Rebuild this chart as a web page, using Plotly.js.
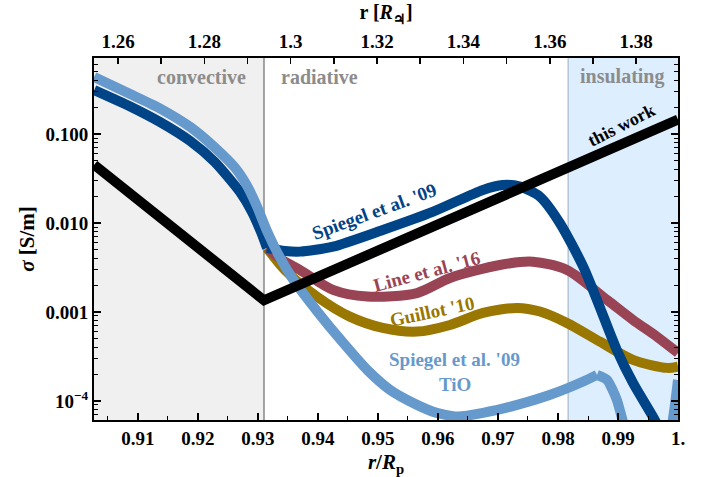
<!DOCTYPE html>
<html>
<head>
<meta charset="utf-8">
<script src="https://cdn.plot.ly/plotly-3.0.1.min.js"></script>
<style>html,body{margin:0;padding:0;background:#fff;}#chart{width:703px;height:477px;}</style>
</head>
<body>
<div id="chart"></div>
<script>
// ---- data ----
const xThisWork = [0.9027, 0.931, 1.0];
const sThisWork = [0.045, 0.00135, 0.145];

const xSpiegel = [0.9027, 0.9087, 0.9137, 0.9187, 0.9228, 0.927, 0.929, 0.9305, 0.9315, 0.9345, 0.937, 0.9425, 0.9508, 0.9592, 0.9675, 0.9708, 0.9737, 0.977, 0.9803, 0.9842, 0.9865, 0.9898, 0.9925, 0.9958, 0.998];
const sSpiegel = [0.312, 0.204, 0.136, 0.0834, 0.0485, 0.0223, 0.0133, 0.00792, 0.00524, 0.00484, 0.00476, 0.00542, 0.00834, 0.0134, 0.0235, 0.0267, 0.0256, 0.0197, 0.0100, 0.00323, 0.00136, 0.000374, 0.000159, 0.0000667, 0.0000355];
const spiegelJoin = 8; // index of the convective/radiative kink

const xTiO = [0.9027, 0.9087, 0.9137, 0.9187, 0.9228, 0.9262, 0.9282, 0.9298, 0.9315, 0.9337, 0.9358, 0.9398, 0.9442, 0.9482, 0.952, 0.9565, 0.9598, 0.9632, 0.9675, 0.9732, 0.9787, 0.9842, 0.9865, 0.9882, 0.9898, 0.9912, 0.9945, 0.9988, 1.0];
const sTiO = [0.437, 0.281, 0.193, 0.120, 0.0705, 0.0415, 0.0260, 0.0155, 0.00813, 0.00404, 0.00235, 0.00103, 0.000449, 0.000223, 0.000133, 0.0000902, 0.0000733, 0.0000667, 0.0000733, 0.0000902, 0.000117, 0.000165, 0.000196, 0.000172, 0.000103, 0.0000472, 0.00001, 0.0000472, 0.000172];
const tioPeak = 22; // index of the sharp peak

const xLine = [0.9315, 0.934, 0.937, 0.9425, 0.9482, 0.9565, 0.962, 0.9703, 0.9758, 0.9815, 0.9882, 0.9925, 0.9965, 1.0];
const sLine = [0.00524, 0.00384, 0.00296, 0.00177, 0.00149, 0.00163, 0.00241, 0.00337, 0.00367, 0.00296, 0.00136, 0.000813, 0.000527, 0.000346];

const xGuillot = [0.9315, 0.9345, 0.9398, 0.9453, 0.9508, 0.9565, 0.962, 0.9675, 0.9732, 0.977, 0.9815, 0.987, 0.9925, 0.9982, 1.0];
const sGuillot = [0.00524, 0.00296, 0.00149, 0.000885, 0.000661, 0.000601, 0.000714, 0.000975, 0.00111, 0.00101, 0.000752, 0.000463, 0.000289, 0.000235, 0.000243];

const bottomTicks = [0.91, 0.92, 0.93, 0.94, 0.95, 0.96, 0.97, 0.98, 0.99, 1.0];
const bottomLabels = ['0.91', '0.92', '0.93', '0.94', '0.95', '0.96', '0.97', '0.98', '0.99', '1.'];
const topTicks = [1.26, 1.27, 1.28, 1.29, 1.30, 1.31, 1.32, 1.33, 1.34, 1.35, 1.36, 1.37, 1.38, 1.39];
const topLabels = ['1.26', '', '1.28', '', '1.3', '', '1.32', '', '1.34', '', '1.36', '', '1.38', ''];
const yTicks = [0.0001, 0.001, 0.01, 0.1];
const yLabels = ['10<sup>\u22124</sup>', '0.001', '0.010', '0.100'];

const xMin = 0.90267, xMax = 1.0, rJ = 1.3897;
const convBoundary = 0.931, insBoundary = 0.9817;

// ---- colours ----
const cDark = '#004488', cLight = '#6699CC', cRed = '#994455', cGold = '#997700';
const W = 10;
const FONT = 'Liberation Serif, Times New Roman, serif';

function seg(x, y, i0, i1, color, smooth) {
  return {x: x.slice(i0, i1 + 1), y: y.slice(i0, i1 + 1), mode: 'lines',
          line: {color: color, width: W, shape: smooth ? 'spline' : 'linear', smoothing: smooth || 0}};
}

const traces = [
  seg(xGuillot, sGuillot, 0, xGuillot.length - 1, cGold, 0.8),
  seg(xLine, sLine, 0, xLine.length - 1, cRed, 0.8),
  seg(xSpiegel, sSpiegel, 0, spiegelJoin, cDark, 0.6),
  seg(xSpiegel, sSpiegel, spiegelJoin, xSpiegel.length - 1, cDark, 0.7),
  seg(xTiO, sTiO, 0, tioPeak, cLight, 0.6),
  seg(xTiO, sTiO, tioPeak, xTiO.length - 1, cLight, 0.5),
  {x: xThisWork, y: sThisWork, mode: 'lines', line: {color: '#000', width: W}},
  {x: [xMin * rJ, xMax * rJ], y: [0.01, 0.01], xaxis: 'x2', mode: 'lines', line: {width: 0}}
].map(t => Object.assign({showlegend: false, hoverinfo: 'skip'}, t));

const tickFont = {family: FONT, size: 19, color: '#000', weight: 'bold'};
const regionFont = {family: FONT, size: 20, color: '#8c8c8c', weight: 'bold'};

const layout = {
  width: 703, height: 477,
  margin: {l: 94, r: 25, t: 58, b: 57},
  paper_bgcolor: '#fff', plot_bgcolor: '#fff',
  font: {family: FONT, size: 18, color: '#000', weight: 'bold'},
  showlegend: false,
  xaxis: {
    range: [xMin, xMax], showgrid: false, zeroline: false,
    showline: true, linecolor: '#000', linewidth: 2,
    tickmode: 'array', tickvals: bottomTicks, ticktext: bottomLabels,
    ticks: 'inside', ticklen: 7, tickwidth: 1.5, tickcolor: '#000',
    minor: {tick0: 0, dtick: 0.005, ticks: 'inside', ticklen: 4, tickwidth: 1, tickcolor: '#000', showgrid: false},
    tickfont: tickFont,
    title: {text: '<i>r</i>/<i>R</i><sub>p</sub>', font: {family: FONT, size: 21, color: '#000', weight: 'bold'}, standoff: 7}
  },
  xaxis2: {
    overlaying: 'x', side: 'top', anchor: 'y',
    range: [xMin * rJ, xMax * rJ], showgrid: false, zeroline: false,
    showline: true, linecolor: '#000', linewidth: 2,
    tickmode: 'array', tickvals: topTicks, ticktext: topLabels,
    ticks: 'inside', ticklen: 6, tickwidth: 1.5, tickcolor: '#000',
    tickfont: tickFont,
    title: {text: 'r [<i>R</i><sub>\u2643</sub>]', font: {family: FONT, size: 20, color: '#000', weight: 'bold'}, standoff: 6}
  },
  yaxis: {
    type: 'log', range: [Math.log10(6.1e-5), Math.log10(0.714)],
    showgrid: false, zeroline: false,
    showline: true, linecolor: '#000', linewidth: 2, mirror: 'ticks',
    tickmode: 'array', tickvals: yTicks, ticktext: yLabels,
    ticks: 'inside', ticklen: 7, tickwidth: 1.5, tickcolor: '#000',
    minor: {dtick: 'D1', ticks: 'inside', ticklen: 4, tickwidth: 1, tickcolor: '#000', showgrid: false},
    tickfont: tickFont,
    title: {text: '<i>\u03c3</i> [S/m]', font: {family: FONT, size: 21, color: '#000', weight: 'bold'}, standoff: 5}
  },
  shapes: [
    {type: 'rect', xref: 'x', yref: 'paper', x0: xMin, x1: convBoundary, y0: 0, y1: 1, fillcolor: '#f0f0f0', line: {width: 0}, layer: 'below'},
    {type: 'rect', xref: 'x', yref: 'paper', x0: insBoundary, x1: xMax, y0: 0, y1: 1, fillcolor: '#ddeeff', line: {width: 0}, layer: 'below'},
    {type: 'line', xref: 'x', yref: 'paper', x0: convBoundary, x1: convBoundary, y0: 0, y1: 1, line: {color: '#888', width: 1.5}, layer: 'below'},
    {type: 'line', xref: 'x', yref: 'paper', x0: insBoundary, x1: insBoundary, y0: 0, y1: 1, line: {color: '#b4c4d4', width: 1.5}, layer: 'below'}
  ],
  annotations: [
    {xref: 'paper', yref: 'paper', x: 0.2637, y: 0.948, xanchor: 'right', yanchor: 'middle', text: 'convective', showarrow: false, font: regionFont},
    {xref: 'paper', yref: 'paper', x: 0.3173, y: 0.948, xanchor: 'left', yanchor: 'middle', text: 'radiative', showarrow: false, font: regionFont},
    {xref: 'paper', yref: 'paper', x: 0.9036, y: 0.950, xanchor: 'center', yanchor: 'middle', text: 'insulating', showarrow: false, font: regionFont},
    {xref: 'paper', yref: 'paper', x: 0.4795, y: 0.5746, xanchor: 'center', yanchor: 'middle', text: "Spiegel et al. '09", textangle: -20, showarrow: false, font: {family: FONT, size: 19, color: cDark, weight: 'bold'}},
    {xref: 'paper', yref: 'paper', x: 0.570, y: 0.409, xanchor: 'center', yanchor: 'middle', text: "Line et al. '16", textangle: -15, showarrow: false, font: {family: FONT, size: 19, color: cRed, weight: 'bold'}},
    {xref: 'paper', yref: 'paper', x: 0.5788, y: 0.301, xanchor: 'center', yanchor: 'middle', text: "Guillot '10", textangle: -12, showarrow: false, font: {family: FONT, size: 19, color: cGold, weight: 'bold'}},
    {xref: 'paper', yref: 'paper', x: 0.618, y: 0.166, xanchor: 'center', yanchor: 'middle', text: "Spiegel et al. '09", showarrow: false, font: {family: FONT, size: 19, color: cLight, weight: 'bold'}},
    {xref: 'paper', yref: 'paper', x: 0.618, y: 0.0967, xanchor: 'center', yanchor: 'middle', text: 'TiO', showarrow: false, font: {family: FONT, size: 19, color: cLight, weight: 'bold'}},
    {xref: 'paper', yref: 'paper', x: 0.904, y: 0.815, xanchor: 'center', yanchor: 'middle', text: 'this work', textangle: -27, showarrow: false, font: {family: FONT, size: 18, color: '#000', weight: 'bold'}}
  ]
};

Plotly.newPlot('chart', traces, layout, {displayModeBar: false, staticPlot: true});
</script>
</body>
</html>
